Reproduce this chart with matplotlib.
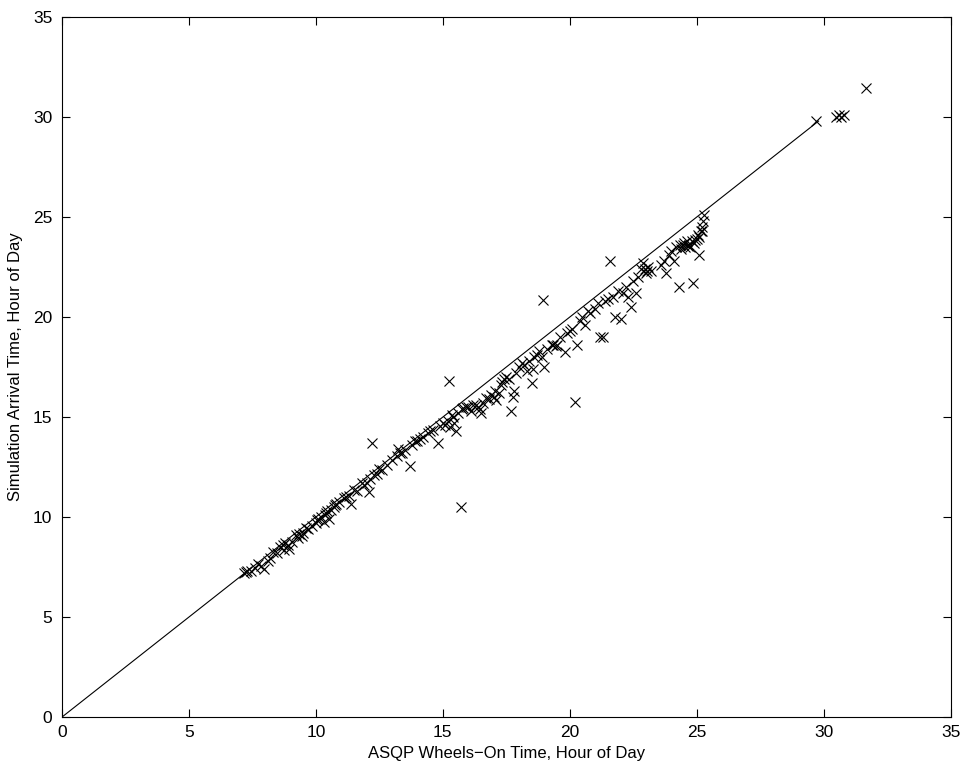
import numpy as np
import matplotlib.pyplot as plt

plt.rcParams['font.family'] = ['Liberation Sans', 'DejaVu Sans']

# ASQP wheels-on time vs simulated arrival time (hour of day)
asqp = [7.15, 7.3, 7.45, 7.6, 7.85, 7.95, 8.1, 8.2, 8.45, 8.6, 8.7, 8.75, 8.9, 8.95,
        9.05, 9.3, 9.35, 9.5, 9.45, 9.7, 9.85, 10.0, 10.1, 10.2, 10.3, 10.35, 10.45,
        10.5, 10.6, 10.7, 10.75, 10.9, 11.1, 11.3, 11.4, 11.6, 11.8, 11.9, 12.0, 12.1,
        12.15, 12.2, 12.3, 12.4, 12.6, 12.8, 13.0, 13.2, 13.25, 13.4, 13.5, 13.7, 13.8,
        13.9, 14.0, 14.2, 14.4, 14.6, 14.8, 14.9, 15.0, 15.1, 15.2, 15.25, 15.3, 15.4,
        15.5, 15.6, 15.7, 15.75, 15.9, 16.0, 16.1, 16.3, 16.4, 16.5, 16.6, 16.8, 16.9,
        17.0, 17.1, 17.2, 17.3, 17.4, 17.5, 17.6, 17.7, 17.75, 17.8, 17.9, 18.0, 18.2,
        18.3, 18.4, 18.5, 18.6, 18.7, 18.9, 18.95, 19.0, 19.1, 19.3, 19.5, 19.8, 19.9,
        20.0, 20.1, 20.2, 20.3, 20.4, 20.5, 20.6, 20.8, 21.0, 21.2, 21.3, 21.4, 21.5,
        21.6, 21.7, 21.8, 21.9, 22.0, 22.1, 22.2, 22.3, 22.4, 22.5, 22.6, 22.7, 22.8,
        22.9, 23.0, 23.1, 23.2, 23.6, 23.7, 23.8, 23.9, 24.0, 24.1, 24.2, 24.3, 24.35,
        24.4, 24.5, 24.55, 24.6, 24.7, 24.75, 24.8, 24.85, 24.9, 25.0, 25.05, 25.1,
        25.15, 25.2, 25.25, 25.3, 29.7, 30.5, 30.6, 30.7, 30.8, 31.65,
        7.25, 7.7, 8.3, 8.8, 9.2, 9.6, 10.05, 10.4, 10.8, 11.2, 11.5, 12.5, 13.3, 14.1,
        14.5, 15.35, 15.8, 16.2, 16.7, 17.05, 17.35, 18.1, 18.8, 19.6, 20.7, 21.1, 22.95,
        23.05, 24.45, 24.65, 24.95, 25.1, 25.2, 19.35, 19.45, 18.55, 16.45, 15.45]
sim = [7.2, 7.3, 7.3, 7.45, 7.55, 7.4, 7.8, 7.95, 8.2, 8.5, 8.6, 8.35, 8.6, 8.4,
       8.75, 8.95, 9.15, 9.2, 9.05, 9.4, 9.55, 9.7, 9.9, 10.0, 9.75, 10.1, 10.3,
       9.9, 10.35, 10.5, 10.6, 10.75, 10.95, 11.05, 10.65, 11.3, 11.7, 11.6, 11.7, 11.25,
       11.9, 13.7, 12.1, 12.15, 12.35, 12.6, 12.85, 13.05, 13.4, 13.2, 13.35, 12.55, 13.6,
       13.8, 13.8, 14.0, 14.2, 14.35, 13.7, 14.55, 14.7, 14.6, 14.8, 16.8, 14.5, 15.0,
       14.3, 15.2, 10.5, 15.4, 15.5, 15.5, 15.3, 15.6, 15.5, 15.2, 15.7, 15.9, 16.1,
       16.0, 15.85, 16.2, 16.6, 16.9, 17.0, 16.9, 15.3, 16.0, 16.3, 17.2, 17.5, 17.6,
       17.3, 17.8, 16.7, 18.0, 18.1, 18.0, 20.85, 17.5, 18.4, 18.6, 18.6, 18.25, 19.2,
       19.3, 19.4, 15.75, 18.6, 19.8, 20.0, 19.6, 20.2, 20.4, 19.0, 19.0, 20.8, 20.9,
       22.8, 21.0, 20.0, 21.3, 19.9, 21.2, 21.5, 21.0, 20.5, 21.8, 21.2, 22.0, 22.4,
       22.7, 22.2, 22.5, 22.3, 22.6, 22.8, 22.2, 23.1, 23.3, 22.8, 23.5, 21.5, 23.6,
       23.4, 23.7, 23.5, 23.8, 23.6, 23.5, 23.8, 21.7, 23.7, 23.9, 24.1, 23.1,
       24.3, 24.5, 24.8, 25.1, 29.8, 30.0, 30.1, 30.0, 30.1, 31.45,
       7.25, 7.65, 8.25, 8.7, 9.1, 9.45, 9.85, 10.2, 10.65, 11.0, 11.35, 12.4, 13.2, 13.9,
       14.3, 15.1, 15.45, 15.6, 15.95, 16.3, 16.75, 17.7, 18.3, 19.0, 20.3, 20.7, 22.4,
       22.3, 23.6, 23.55, 23.85, 24.0, 24.3, 18.6, 18.55, 17.4, 15.4, 14.7]

line_end = 29.8

fig = plt.figure(figsize=(9.69, 7.76), dpi=100)
ax = fig.add_axes([0.064, 0.076, 0.917, 0.902])

ax.plot([0, line_end], [0, line_end], color='black', lw=0.8)
ax.plot(asqp, sim, 'x', color='black', ms=7, mew=0.8)

ax.set_xlim(0, 35)
ax.set_ylim(0, 35)
ax.set_xticks(np.arange(0, 36, 5))
ax.set_yticks(np.arange(0, 36, 5))
ax.tick_params(direction='in', top=True, right=True, labelsize=12.5, length=6)
ax.tick_params(axis='x', pad=6)
ax.tick_params(axis='y', pad=7)
for s in ax.spines.values():
    s.set_linewidth(0.8)
ax.set_xlabel('ASQP Wheels\u2212On Time, Hour of Day', fontsize=12, labelpad=4)
ax.set_ylabel('Simulation Arrival Time, Hour of Day', fontsize=12, labelpad=7)

fig.savefig('out.png', dpi=100)
